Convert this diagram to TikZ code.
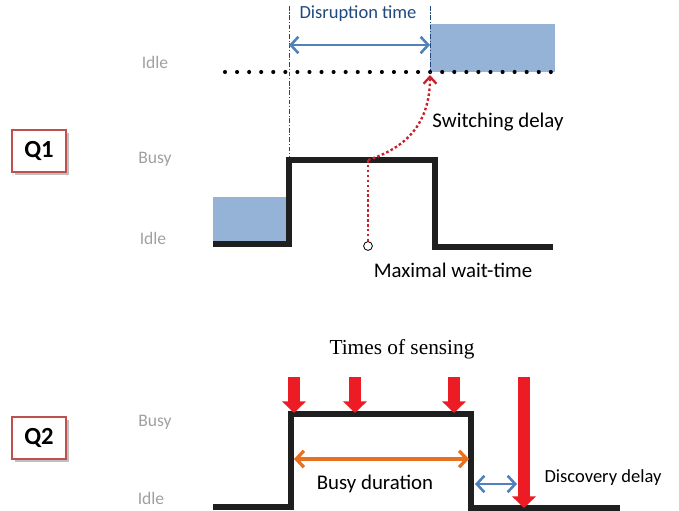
\documentclass[tikz,border=0pt]{standalone}
\usepackage{fontspec}
\setmainfont{Carlito}
\newfontfamily\timesfont{Liberation Serif}
\usepackage{xcolor}
\usetikzlibrary{arrows.meta,shadows}

\definecolor{qred}{RGB}{192,80,77}
\definecolor{labgray}{RGB}{160,160,160}
\definecolor{darkblue}{RGB}{31,73,125}
\definecolor{midblue}{RGB}{79,129,189}
\definecolor{fillblue}{RGB}{149,179,215}
\definecolor{dotred}{RGB}{200,32,45}
\definecolor{sensered}{RGB}{237,28,36}
\definecolor{orng}{RGB}{232,112,30}

\begin{document}
\begin{tikzpicture}[x=0.03cm,y=-0.03cm,
    qbox/.style={draw=qred,line width=1.8pt,fill=white,minimum width=1.62cm,minimum height=1.24cm,
        font=\fontsize{21}{24}\selectfont\bfseries,
        drop shadow={shadow xshift=2.5pt,shadow yshift=-2.5pt,opacity=0.5}},
    level/.style={text=labgray,font=\fontsize{15}{18}\selectfont},
    txt/.style={font=\fontsize{17.8}{20}\selectfont},
    signal/.style={line width=4.3pt,line join=miter,black!88},
    marker/.style={darkblue,line width=0.8pt,dash pattern=on 4pt off 1.5pt on 1pt off 1.5pt},
    reddot/.style={dotred,line width=2pt,dash pattern=on 2.2pt off 2pt},
    span/.style={line width=2.2pt,{Straight Barb[width=14pt,length=6.5pt]}-{Straight Barb[width=14pt,length=6.5pt]}},
    sense/.style={sensered,line width=10pt,-{Triangle[width=20pt,length=10pt]}}]

    \useasboundingbox (0,0) rectangle (679,511);

    % Q1: switching after the wait
    \node[qbox] (q1) at (39,151) {Q1};
    \node[level] (idletop) at (155,62) {Idle};
    \node[level] (busy1) at (155,159) {Busy};
    \node[level] (idle1) at (153,238) {Idle};

    \fill[fillblue] (430,24) rectangle (555,72);
    \fill[fillblue] (213,197) rectangle (287,243);

    \coordinate (d1) at (225,72);
    \coordinate (d2) at (552,72);
    \draw[line width=3.5pt,line cap=round,dash pattern=on 0pt off 10.3pt] (d1) -- (d2);

    \coordinate (m1top) at (289,6);
    \coordinate (m1) at (289,160);
    \coordinate (m2top) at (430,6);
    \coordinate (m2) at (430,72);
    \draw[marker] (m1top) -- (m1);
    \draw[marker] (m2top) -- (m2);

    \coordinate (da) at (289,45);
    \coordinate (db) at (430,45);
    \draw[span,midblue] (da) -- (db);
    \node[darkblue,font=\fontsize{15.8}{18}\selectfont] (disr) at (358,14) {Disruption time};

    \coordinate (s1) at (213,244);
    \coordinate (s2) at (289,244);
    \coordinate (s3) at (289,160);
    \coordinate (s4) at (435,160);
    \coordinate (s5) at (435,247);
    \coordinate (s6) at (553,247);
    \draw[signal] (s1) -- (s2) -- (s3) -- (s4) -- (s5) -- (s6);

    % wait-time and switching delay
    \coordinate (w) at (368,160);
    \coordinate (sw) at (430,75);
    \node[circle,draw,fill=white,inner sep=0pt,minimum size=7.5pt,line width=0.7pt] (wend) at (368,246) {};
    \draw[reddot] (w) -- (wend);
    \draw[reddot,-{Straight Barb[width=11pt,length=6pt,line width=2pt]}] (w) .. controls (405,148) and (430,125) .. (sw);
    \node[txt] (swlab) at (498,122) {Switching delay};
    \node[txt] (waitlab) at (453,270) {Maximal wait-time};

    % Q2: periodic sensing
    \node[qbox] (q2) at (39,438) {Q2};
    \node[level] (busy2) at (155,422) {Busy};
    \node[level] (idle2) at (151,498) {Idle};
    \node[font=\fontsize{18.2}{21}\selectfont\timesfont] (times) at (402,349) {Times of sensing};

    \coordinate (t1) at (213,507);
    \coordinate (t2) at (291,507);
    \coordinate (t3) at (291,414);
    \coordinate (t4) at (471,414);
    \coordinate (t5) at (471,508);
    \coordinate (t6) at (620,508);
    \draw[signal] (t1) -- (t2) -- (t3) -- (t4) -- (t5) -- (t6);

    \foreach \x [count=\i] in {294,355,454} {
        \coordinate (a\i) at (\x,377);
        \coordinate (b\i) at (\x,413);
        \draw[sense] (a\i) -- (b\i);
    }
    \coordinate (a4) at (524,377);
    \coordinate (b4) at (524,508);
    \draw[sense] (a4) -- (b4);

    \coordinate (o1) at (294,459);
    \coordinate (o2) at (469,459);
    \draw[span,orng,line width=2.8pt] (o1) -- (o2);
    \node[txt] (busylab) at (375,484) {Busy duration};

    \coordinate (e1) at (475,484);
    \coordinate (e2) at (517,484);
    \draw[span,midblue] (e1) -- (e2);
    \node[font=\fontsize{15.8}{18}\selectfont] (disclab) at (603,478) {Discovery delay};
\end{tikzpicture}
\end{document}
